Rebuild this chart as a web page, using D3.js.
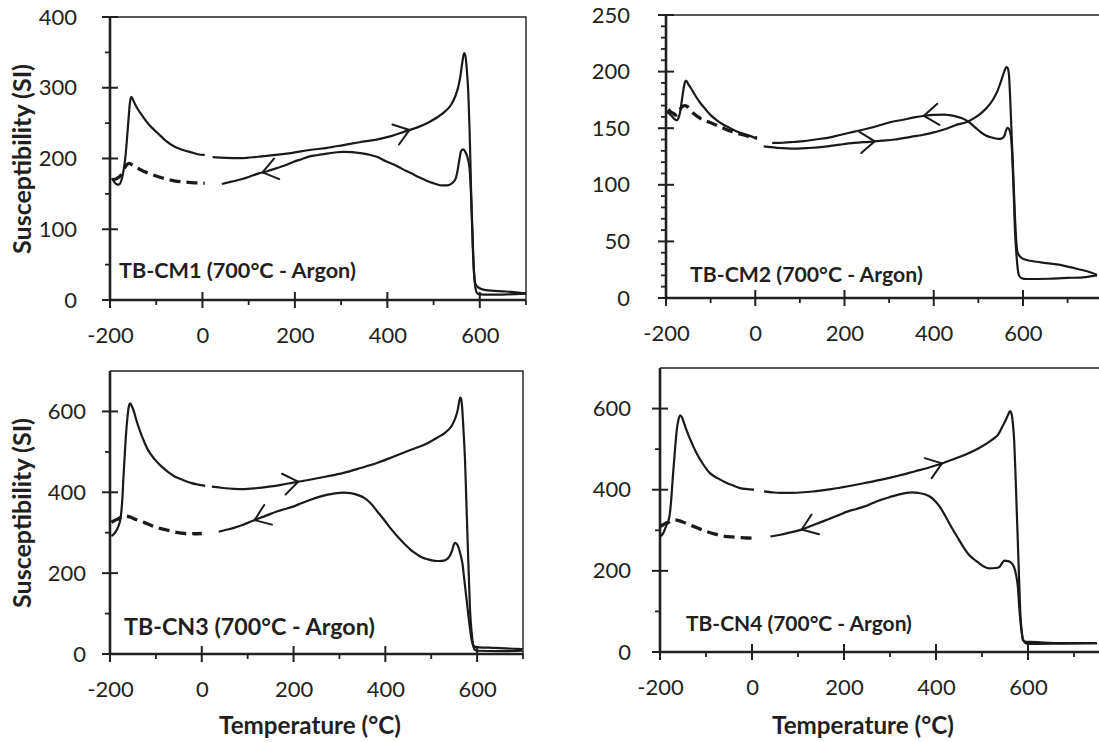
<!DOCTYPE html>
<html><head><meta charset="utf-8">
<script src="https://cdn.jsdelivr.net/npm/d3@7"></script>
<style>
html,body{margin:0;padding:0;background:#fff;}
svg{display:block;}
</style></head><body>
<svg id="chart" width="1099" height="742"></svg>
<script>
// ---------------- DATA ----------------
const xMajorTicks = [-200, 0, 200, 400, 600];
const xMinorTicks = [-100, 100, 300, 500, 700];
const yMajorCM1 = [0, 100, 200, 300, 400];
const yMinorCM1 = [50, 150, 250, 350];
const yMajorCM2 = [0, 50, 100, 150, 200, 250];
const yMinorCM2 = [10, 20, 30, 40, 60, 70, 80, 90, 110, 120, 130, 140, 160, 170, 180, 190, 210, 220, 230, 240];
const yMajorCN = [0, 200, 400, 600];
const yMinorCN = [100, 300, 500];

const sampleLabels = ["TB-CM1 (700°C - Argon)", "TB-CM2 (700°C - Argon)", "TB-CN3 (700°C - Argon)", "TB-CN4 (700°C - Argon)"];
const yTitle = "Susceptibility (SI)";
const xTitle = "Temperature (°C)";

// [temperature °C, susceptibility]
const cm1HeatLow = [[-196,172],[-190,166],[-184,163],[-179,164],[-175,170],[-171,182],[-167,200],[-163,230],[-160,255],[-157,278],[-154,287],[-151,284],[-146,277],[-140,270],[-134,264],[-116,248],[-97,236],[-79,225],[-61,217],[-42,212],[-24,208.6],[-10,206],[5,205]];
const cm1HeatHigh = [[22,202],[50,201],[86,200.6],[120,202.5],[159,205],[195,208],[232,212],[270,215],[305,219],[340,223],[379,227],[410,232],[437,238],[465,244],[489,251],[510,259],[525,266.6],[538,276],[547,288],[553,300],[558,316],[562,335],[566,349],[569,345],[572,325],[575,295],[578,240],[581,160],[584,90],[587,45],[590,24],[596,18],[613,14],[657,12],[700,9.4]];
const cm1CoolHigh = [[700,9],[660,8],[620,7.5],[600,8],[594,10],[590,20],[587,45],[584,100],[581,150],[578,185],[574,200],[569,209],[564,213],[560,211],[556,199],[552,183],[548,172],[540,165],[530,162],[518,162],[505,164],[489,167.5],[470,173],[452,179],[433,185],[415,191],[397,196],[379,202],[360,205.5],[342,207.6],[324,209],[305,209.5],[287,208.5],[269,207],[250,205],[232,203],[214,199],[196,195],[178,190],[159,186],[140,182],[122,179],[104,175],[86,171],[64,167.5],[42,164]];
const cm1CoolLow = [[5,165],[-24,166],[-61,168.5],[-97,174.6],[-116,179],[-134,184],[-150,190],[-158,193],[-164,191],[-170,185],[-176,177],[-185,172],[-194,170]];

const cm2HeatLow = [[-198.5,165],[-192,162.5],[-187,160.7],[-181,158],[-176,157],[-172,159],[-168.5,164],[-165,173],[-161,184],[-158,190],[-155,192],[-150,189],[-142,184],[-133,178],[-123.5,172.5],[-112,167],[-101,162],[-86,157],[-71,153],[-56,150],[-41,147],[-26,145],[-11,143],[4,140.6]];
const cm2HeatHigh = [[19,134],[35,133.2],[49,132.7],[70,132.2],[94,132],[120,132.5],[162,134],[190,135.5],[222,137],[255,138],[285,139],[312,140],[349,142.4],[375,144],[402,146.5],[425,149],[447,152.4],[477,156],[495,160],[507,163.6],[520,168.5],[533,175.4],[543,183],[552,193],[558,200],[563,204],[566,203],[569,195],[572,170],[575,140],[578,112],[582,72],[585,50],[588,40],[595,36],[605,34],[640,31.5],[680,29.5],[708,27],[735,24.5],[752,22.5],[766,20.6]];
const cm2CoolHigh = [[766,20],[740,18.5],[700,17.7],[660,17],[608,16.8],[597,17.5],[591,20],[586,35],[582,60],[579,95],[576,125],[573,143],[569,149],[565,150.4],[562,148],[559,144],[553,141],[545,140.5],[533,141.5],[520,143],[507,146],[492,151],[477,156],[462,159],[447,160.7],[435,161.5],[424,162],[400,161.8],[379,161],[356,159.5],[334,157.7],[300,155],[274,152],[250,149.5],[222,147],[190,144],[162,141.5],[135,140],[109,138.6],[85,137.8],[64,137.2],[50,137],[38,137]];
const cm2CoolLow = [[4,141.5],[-11,142.5],[-26,144],[-41,145.5],[-56,147.5],[-71,150],[-86,152.5],[-101,155],[-116,157],[-128,160],[-138,163],[-145,166],[-152,169],[-158,170],[-165,168.5],[-170,165],[-174,162],[-178,161.5],[-183,163],[-188,164],[-195,166.6]];

const cn3HeatLow = [[-197,292],[-192,296],[-187.5,302.5],[-182,315],[-178,330],[-176,345],[-173,385],[-170.6,439],[-168,490],[-165.4,539],[-162,585],[-159,612],[-156,620],[-152,612],[-148,600],[-143,580],[-131,540],[-117.6,505.5],[-103,482],[-88,464],[-73,450],[-59,439],[-40,430],[-22,422.6],[-8,419],[7.5,416]];
const cn3HeatHigh = [[22,414],[37,412],[51.6,410],[70,408.5],[88.5,407.7],[118,410],[147,414],[173,418.5],[199,424],[235,431],[272,439],[309,448],[346,460],[383,473],[420,489],[456,505],[493,522],[513,535],[530,547],[545,565],[553,585],[558,605],[561,625],[563,634],[565,632],[567,615],[570,560],[573.6,481],[576.5,380],[579.5,273.5],[582,190],[584.6,108],[588,55],[592,21],[597,17],[603.5,16.6],[640,15],[699,12]];
const cn3CoolHigh = [[699,8],[650,7],[600,8],[595,10],[592.5,16.6],[588,35],[585,58],[580,105],[575.6,149],[572,185],[568,224],[563,250],[559,265],[555,273],[552,275],[549,270],[546,258],[542,246],[536,236],[528,231],[518,230],[508,230.5],[493,234],[478,240],[467,248],[456,257],[442,272],[427,290],[412,310],[397.5,331.5],[383,352],[368,373],[354,386],[339,393.6],[324,398],[309,399.4],[290,397.5],[272,393.6],[254,388],[235.6,381],[217,373],[199,364.6],[180,358],[162,352],[143,343.5],[125,335.6],[107,327.5],[88.5,319],[70,312],[51.6,306.6],[37,302.5]];
const cn3CoolLow = [[0,298],[-18,297.5],[-36.6,298],[-55,301],[-73.4,306],[-92,311],[-110,318],[-125,325],[-140,331],[-150,336],[-157,339],[-165,341],[-170,341],[-177,338],[-184,333],[-190,330],[-197,326]];

const cn4HeatLow = [[-198,285],[-192,295],[-187,309.5],[-183,320],[-179.5,334],[-176,370],[-172,433],[-168,490],[-163.4,549],[-160,572],[-156,583.5],[-152,578],[-148,565],[-143,549],[-132,518],[-121,491],[-107,464],[-92,441.5],[-74,428],[-55,416.8],[-40,410],[-26,404],[-11,401.5],[4.4,400]];
const cn4HeatHigh = [[26,396],[44,393.5],[62,392],[98,392.5],[135,396],[172,401.5],[208.5,408.5],[245,416.5],[281.7,425],[318,434.5],[355,445.6],[380,453],[406,462],[435,474],[464.7,487],[494,503],[523,524],[535,536],[545,557],[553,575],[558,588],[561,594],[564,588],[567,565],[570,520],[573,433],[575.5,350],[578,268],[580.5,185],[583,103],[586,55],[589,29],[596,25],[606,24.8],[672,22],[750,22]];
const cn4CoolHigh = [[750,22],[672,20.6],[615,20],[598,20.6],[590,29],[585,60],[581,110],[578,160],[574,190],[571,205],[567,215],[563.5,220],[556,224],[549,225],[543,218],[538,210],[530,207],[516,206],[505,210],[494,218.7],[483,228],[472,239],[461,256],[450,276.5],[435,305],[420.8,334],[410,355],[399,371],[388,382],[377,388],[362,392],[347.6,393.6],[333,391.5],[318,388],[300,382],[281.7,375.5],[263,367.5],[245,359],[227,352.5],[208.5,346.6],[190,338],[172,330],[154,322],[135,313.6],[120,307],[106,301],[84,295],[62,289],[40,284.7]];
const cn4CoolLow = [[4.4,280.6],[-11,281],[-26,282],[-44,283.5],[-62.4,286],[-80,290.5],[-99,297],[-117,305],[-135.6,313.6],[-152,321],[-163,325],[-168.5,326],[-175,324],[-181,320],[-187,317.7],[-194,313],[-200,309.5]];

// arrow tips: which curve, temperature of tip, direction (+1 heating, -1 cooling)
const cm1Arrows = [["heatHigh", 448, 1], ["coolHigh", 130, -1]];
const cm2Arrows = [["heatHigh", 268, 1], ["coolHigh", 378, -1]];
const cn3Arrows = [["heatHigh", 210, 1], ["coolHigh", 115, -1]];
const cn4Arrows = [["heatHigh", 413, 1], ["coolHigh", 108, -1]];

// ---------------- LAYOUT ----------------
const FONT = "Lato, 'Open Sans', sans-serif";
const INK = "#231f20";
const W = 1099;
const panels = [
  {curves:{heatLow:cm1HeatLow, heatHigh:cm1HeatHigh, coolHigh:cm1CoolHigh, coolLow:cm1CoolLow}, arrows:cm1Arrows,
   x0:110, x1:526, yTop:17, yBot:300, yMax:400, yMajor:yMajorCM1, yMinor:yMinorCM1, boxRight:526, yPad:33,
   label:sampleLabels[0], labelX:119, labelY:278, labelW:237, yTitleY:159, xTitleX:null},
  {curves:{heatLow:cm2HeatLow, heatHigh:cm2HeatHigh, coolHigh:cm2CoolHigh, coolLow:cm2CoolLow}, arrows:cm2Arrows,
   x0:666, x1:1067.6, yTop:15, yBot:298, yMax:250, yMajor:yMajorCM2, yMinor:yMinorCM2, boxRight:null, yPad:36,
   label:sampleLabels[1], labelX:690, labelY:281.7, labelW:233, yTitleY:null, xTitleX:null},
  {curves:{heatLow:cn3HeatLow, heatHigh:cn3HeatHigh, coolHigh:cn3CoolHigh, coolLow:cn3CoolLow}, arrows:cn3Arrows,
   x0:110, x1:523, yTop:371, yBot:654, yMax:700, yMajor:yMajorCN, yMinor:yMinorCN, boxRight:523, yPad:24,
   label:sampleLabels[2], labelX:124, labelY:635, labelW:251, yTitleY:513, xTitleX:310},
  {curves:{heatLow:cn4HeatLow, heatHigh:cn4HeatHigh, coolHigh:cn4CoolHigh, coolLow:cn4CoolLow}, arrows:cn4Arrows,
   x0:660, x1:1074, yTop:368, yBot:652, yMax:700, yMajor:yMajorCN, yMinor:yMinorCN, boxRight:null, yPad:29,
   label:sampleLabels[3], labelX:686, labelY:630.7, labelW:226, yTitleY:null, xTitleX:863}
];

const svg = d3.select("#chart");

function fitWidth(sel, target) {
  const len = sel.node().getComputedTextLength();
  if (len > 0) sel.attr("font-size", parseFloat(sel.attr("font-size")) * target / len);
}
function interp(arr, T) {
  const s = arr.slice().sort((a, b) => a[0] - b[0]);
  for (let i = 0; i < s.length - 1; i++) {
    if (T >= s[i][0] && T <= s[i + 1][0]) {
      const t = (T - s[i][0]) / (s[i + 1][0] - s[i][0]);
      return s[i][1] + t * (s[i + 1][1] - s[i][1]);
    }
  }
  return s[s.length - 1][1];
}
function seg(g, x1, y1, x2, y2, w) {
  g.append("line").attr("x1", x1).attr("y1", y1).attr("x2", x2).attr("y2", y2)
    .attr("stroke", INK).attr("stroke-width", w);
}

panels.forEach(p => {
  const x = d3.scaleLinear().domain([-200, 700]).range([p.x0, p.x1]);
  const y = d3.scaleLinear().domain([0, p.yMax]).range([p.yBot, p.yTop]);
  const g = svg.append("g");
  const xr = p.boxRight === null ? W + 10 : p.boxRight;

  // frame top / right
  g.append("path").attr("d", `M${p.x0},${p.yTop}H${xr}` + (p.boxRight === null ? "" : `V${p.yBot}`))
    .attr("fill", "none").attr("stroke", INK).attr("stroke-width", 1.4);

  // ticks (major cross the axis, minor outside)
  p.yMajor.forEach(v => seg(g, p.x0 - 8, y(v), p.x0 + 8, y(v), 2));
  p.yMinor.forEach(v => seg(g, p.x0 - 5, y(v), p.x0, y(v), 1.8));
  xMajorTicks.forEach(v => seg(g, x(v), p.yBot - 8, x(v), p.yBot + 8, 2));
  xMinorTicks.forEach(v => seg(g, x(v), p.yBot, x(v), p.yBot + 5, 1.8));
  // axis lines
  seg(g, p.x0, p.yBot + 1, p.x0, p.yTop, 2.6);
  seg(g, p.x0 - 1, p.yBot, xr, p.yBot, 2.6);

  // tick labels via d3 axes (lines hidden)
  const yAx = g.append("g").attr("transform", `translate(${p.x0},0)`)
    .call(d3.axisLeft(y).tickValues(p.yMajor).tickSize(0).tickPadding(p.yPad).tickFormat(d => String(d)));
  const xAx = g.append("g").attr("transform", `translate(0,${p.yBot})`)
    .call(d3.axisBottom(x).tickValues(xMajorTicks).tickSize(0).tickPadding(27).tickFormat(d => String(d)));
  [yAx, xAx].forEach(a => {
    a.select(".domain").remove();
    a.selectAll(".tick line").remove();
    a.selectAll("text").attr("font-family", FONT).attr("font-size", 22).attr("fill", INK);
  });

  // curves
  const line = d3.line().x(d => x(d[0])).y(d => y(d[1])).curve(d3.curveMonotoneX);
  const sorted = a => a.slice().sort((m, n) => m[0] - n[0]);
  ["heatLow", "heatHigh", "coolHigh"].forEach(k => {
    g.append("path").attr("d", line(sorted(p.curves[k])))
      .attr("fill", "none").attr("stroke", "#1a1a1a").attr("stroke-width", 2.2).attr("stroke-linejoin", "round");
  });
  g.append("path").attr("d", line(sorted(p.curves.coolLow)))
    .attr("fill", "none").attr("stroke", "#1a1a1a").attr("stroke-width", 3.3)
    .attr("stroke-dasharray", "11,6");

  // arrows (open chevrons)
  p.arrows.forEach(([k, T, dir]) => {
    const arr = p.curves[k];
    const tx = x(T), ty = y(interp(arr, T));
    const bx = x(T - dir * 10), by = y(interp(arr, T - dir * 10));
    let vx = bx - tx, vy = by - ty;
    const n = Math.hypot(vx, vy); vx /= n; vy /= n;
    const L = 18, ang = 36 * Math.PI / 180;
    [ang, -ang].forEach(a => {
      const wx = vx * Math.cos(a) - vy * Math.sin(a);
      const wy = vx * Math.sin(a) + vy * Math.cos(a);
      g.append("line").attr("x1", tx).attr("y1", ty).attr("x2", tx + wx * L).attr("y2", ty + wy * L)
        .attr("stroke", "#1a1a1a").attr("stroke-width", 2).attr("stroke-linecap", "round");
    });
  });

  // sample label
  const lab = g.append("text").attr("x", p.labelX).attr("y", p.labelY)
    .attr("font-family", FONT).attr("font-weight", "bold").attr("font-size", 20).attr("fill", INK)
    .text(p.label);
  fitWidth(lab, p.labelW);

  // axis titles
  if (p.yTitleY !== null) {
    const t = g.append("text").attr("transform", `translate(31,${p.yTitleY}) rotate(-90)`)
      .attr("text-anchor", "middle").attr("font-family", FONT).attr("font-weight", "bold")
      .attr("font-size", 22).attr("fill", INK).text(yTitle);
    fitWidth(t, 190);
  }
  if (p.xTitleX !== null) {
    const t = g.append("text").attr("x", p.xTitleX).attr("y", 734)
      .attr("text-anchor", "middle").attr("font-family", FONT).attr("font-weight", "bold")
      .attr("font-size", 22).attr("fill", INK).text(xTitle);
    fitWidth(t, 182);
  }
});
</script>
</body></html>
